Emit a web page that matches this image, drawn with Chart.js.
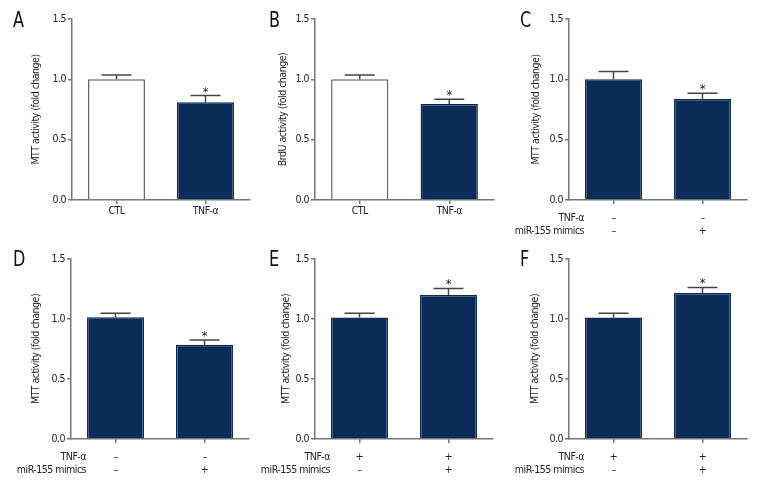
<!DOCTYPE html>
<html>
<head>
<meta charset="utf-8">
<script src="https://cdn.jsdelivr.net/npm/chart.js@4.4.1/dist/chart.umd.min.js"></script>
<style>
html, body { margin: 0; padding: 0; background: #fff; }
#wrap { position: relative; width: 768px; height: 492px; overflow: hidden; }
.panel { position: absolute; width: 256px; height: 246px; }
.letter { position: absolute; font-family: 'Liberation Sans Narrow', 'DejaVu Sans Condensed', sans-serif; font-size: 21px; line-height: 1; color: #111; transform: scaleX(0.85); transform-origin: left top; }
</style>
</head>
<body>
<div id="wrap"></div>
<script>
const FONT = "'Liberation Sans Narrow', 'DejaVu Sans Condensed', sans-serif";
const NAVY = '#0b2c57';
const AXIS = '#777';
const TIGHT = '-0.5px';

// data
const panelLetters = ['A', 'B', 'C', 'D', 'E', 'F'];
const yTitles = ['MTT activity (fold change)', 'BrdU activity (fold change)', 'MTT activity (fold change)',
                 'MTT activity (fold change)', 'MTT activity (fold change)', 'MTT activity (fold change)'];
const groupLabels = ['CTL', 'TNF-α'];
const rowNames = ['TNF-α', 'miR-155 mimics'];
const tnfC = ['–', '–'];  const mimicsC = ['–', '+'];
const tnfD = ['–', '–'];  const mimicsD = ['–', '+'];
const tnfE = ['+', '+'];  const mimicsE = ['–', '+'];
const tnfF = ['+', '+'];  const mimicsF = ['–', '+'];
const meanA = [1.00, 0.81];   const errA = [0.035, 0.055];
const meanB = [1.00, 0.795];  const errB = [0.035, 0.04];
const meanC = [1.00, 0.837];  const errC = [0.065, 0.047];
const meanD = [1.015, 0.786]; const errD = [0.032, 0.04];
const meanE = [1.013, 1.20];  const errE = [0.034, 0.055];
const meanF = [1.013, 1.217]; const errF = [0.034, 0.046];
const stars = ['', '*'];
const yTicks = [0, 0.5, 1.0, 1.5];

// plot box of each panel inside its 256x246 cell: left, right, top, bottom, title x
const boxes = [
    [72, 250, 19, 200, 36], [59, 238, 19, 200, 27], [57, 235, 19, 200, 24],
    [71, 249, 13, 193, 36], [59, 237, 13, 193, 30], [57, 235, 13, 193, 23]
];

const panels = [
    { labels: groupLabels, mean: meanA, err: errA, colors: ['#fff', NAVY] },
    { labels: groupLabels, mean: meanB, err: errB, colors: ['#fff', NAVY] },
    { labels: [[tnfC[0], mimicsC[0]], [tnfC[1], mimicsC[1]]], mean: meanC, err: errC, colors: [NAVY, NAVY], rows: true },
    { labels: [[tnfD[0], mimicsD[0]], [tnfD[1], mimicsD[1]]], mean: meanD, err: errD, colors: [NAVY, NAVY], rows: true },
    { labels: [[tnfE[0], mimicsE[0]], [tnfE[1], mimicsE[1]]], mean: meanE, err: errE, colors: [NAVY, NAVY], rows: true },
    { labels: [[tnfF[0], mimicsF[0]], [tnfF[1], mimicsF[1]]], mean: meanF, err: errF, colors: [NAVY, NAVY], rows: true }
];

// canvas state is reset when chart.js sizes the canvas, so tighten text here
const narrowText = {
    id: 'narrowText',
    beforeUpdate(chart) { chart.ctx.letterSpacing = TIGHT; },
    beforeDraw(chart) { chart.ctx.letterSpacing = TIGHT; }
};

const errorBars = {
    id: 'errorBars',
    afterDatasetsDraw(chart, args, opts) {
        const ctx = chart.ctx;
        const y = chart.scales.y;
        const ds = chart.data.datasets[0];
        chart.getDatasetMeta(0).data.forEach((bar, i) => {
            const top = y.getPixelForValue(ds.data[i] + opts.err[i]);
            ctx.save();
            ctx.strokeStyle = '#444';
            ctx.lineWidth = 1.5;
            ctx.beginPath();
            ctx.moveTo(bar.x, bar.y);
            ctx.lineTo(bar.x, top);
            ctx.moveTo(bar.x - 15, top);
            ctx.lineTo(bar.x + 15, top);
            ctx.stroke();
            if (stars[i]) {
                ctx.fillStyle = '#222';
                ctx.font = '13px ' + FONT;
                ctx.textAlign = 'center';
                ctx.textBaseline = 'alphabetic';
                ctx.fillText(stars[i], bar.x, top);
            }
            ctx.restore();
        });
    }
};

const rowHeaders = {
    id: 'rowHeaders',
    afterDraw(chart, args, opts) {
        if (!opts.show) return;
        const ctx = chart.ctx;
        const a = chart.chartArea;
        ctx.save();
        ctx.fillStyle = '#222';
        ctx.font = '10.5px ' + FONT;
        ctx.textAlign = 'right';
        ctx.textBaseline = 'middle';
        rowNames.forEach((name, i) => ctx.fillText(name, a.left + 15, a.bottom + 18 + i * 13));
        ctx.restore();
    }
};

const wrap = document.getElementById('wrap');

panels.forEach((p, k) => {
    const [left, right, top, bottom, titleX] = boxes[k];
    const col = k % 3, row = Math.floor(k / 3);

    const holder = document.createElement('div');
    holder.className = 'panel';
    holder.style.left = (col * 256) + 'px';
    holder.style.top = (row * 246) + 'px';
    const canvas = document.createElement('canvas');
    canvas.width = 256;
    canvas.height = 246;
    holder.appendChild(canvas);
    wrap.appendChild(holder);

    const letter = document.createElement('div');
    letter.className = 'letter';
    letter.textContent = panelLetters[k];
    letter.style.left = (col * 256 + (col === 2 ? 8 : 13)) + 'px';
    letter.style.top = (row * 246 + (row === 0 ? 10 : 3)) + 'px';
    wrap.appendChild(letter);

    new Chart(canvas.getContext('2d'), {
        type: 'bar',
        data: {
            labels: p.labels,
            datasets: [{
                data: p.mean,
                backgroundColor: p.colors,
                borderColor: p.colors.map(c => c === '#fff' ? '#666' : c),
                borderWidth: 1.5,
                barPercentage: 0.64,
                categoryPercentage: 1
            }]
        },
        options: {
            responsive: false,
            animation: false,
            layout: { padding: { left: 0, right: 256 - right, top: top, bottom: 0 } },
            plugins: {
                legend: { display: false },
                tooltip: { enabled: false },
                errorBars: { err: p.err },
                rowHeaders: { show: !!p.rows }
            },
            scales: {
                x: {
                    grid: { drawOnChartArea: false, offset: false, color: AXIS, lineWidth: 1.5, tickLength: 4 },
                    border: { color: AXIS, width: 1.5 },
                    ticks: {
                        color: '#222',
                        font: { family: FONT, size: 10.5, lineHeight: '13px' },
                        padding: p.rows ? 8 : 1,
                        maxRotation: 0
                    },
                    afterFit: s => { s.height = 246 - bottom; }
                },
                y: {
                    min: 0,
                    max: 1.5,
                    afterBuildTicks: s => { s.ticks = yTicks.map(v => ({ value: v })); },
                    grid: { drawOnChartArea: false, color: AXIS, lineWidth: 1.5, tickLength: 4 },
                    border: { color: AXIS, width: 1.5 },
                    ticks: {
                        color: '#222',
                        font: { family: FONT, size: 10.5 },
                        padding: 2,
                        callback: v => Number(v).toFixed(1)
                    },
                    title: {
                        display: true,
                        text: yTitles[k],
                        color: '#222',
                        font: { family: FONT, size: 10.5, lineHeight: '13px' },
                        padding: { top: titleX - 6.5, bottom: 0 }
                    },
                    afterFit: s => { s.width = left; }
                }
            }
        },
        plugins: [narrowText, errorBars, rowHeaders]
    });
});
</script>
</body>
</html>
